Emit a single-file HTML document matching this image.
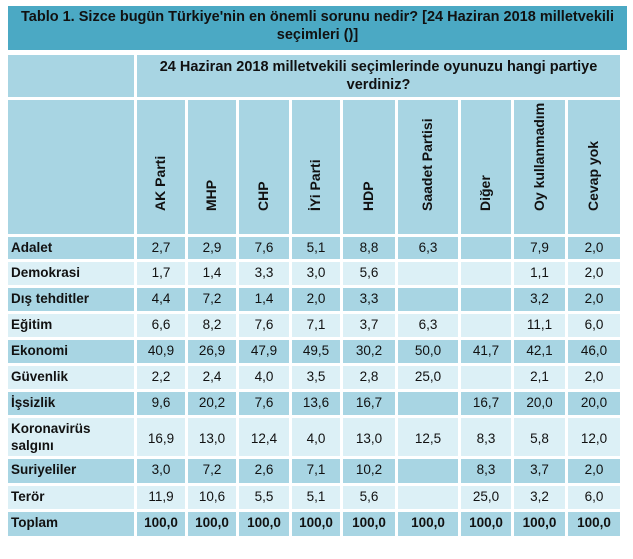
<!DOCTYPE html>
<html><head><meta charset="utf-8"><style>
body{margin:0;background:#fff;width:633px;height:559px;overflow:hidden;font-family:"Liberation Sans",Arial,sans-serif;color:#111;position:relative}
.title{position:absolute;left:8px;top:6px;width:619px;height:44px;background:#4ba9c4;font-weight:bold;font-size:14.5px;text-align:center;line-height:18px;padding-top:2px;box-sizing:border-box}
table{position:absolute;left:5px;top:52px;border-collapse:separate;border-spacing:3px;table-layout:fixed}
td{padding:0;font-size:13.5px;text-align:center;vertical-align:top;line-height:17px;padding-top:2px;box-sizing:border-box}
td.l{text-align:left;font-weight:bold;padding-left:3px}
.d td{background:#a8d5e3}
.w td{background:#dcf0f6}
.hd td{background:#a8d5e3;font-weight:bold}
.rot{position:relative;height:132px}
.rot span{position:absolute;left:50%;bottom:6px;transform-origin:0 0;transform:rotate(-90deg) translate(0,-9px);white-space:nowrap;font-weight:bold;font-size:14px}
tr.t td{font-weight:bold}
</style></head><body>
<div class="title">Tablo 1. Sizce bugün Türkiye'nin en önemli sorunu nedir? [24 Haziran 2018 milletvekili seçimleri ()]</div>
<table>
<colgroup><col style="width:126px"><col style="width:48px"><col style="width:48px"><col style="width:50px"><col style="width:48px"><col style="width:52px"><col style="width:60px"><col style="width:50px"><col style="width:51px"><col style="width:52px"></colgroup>
<tr class="hd" style="height:42px"><td></td><td colspan="9" style="font-size:14.5px;line-height:18px;padding-top:3px">24 Haziran 2018 milletvekili seçimlerinde oyunuzu hangi partiye verdiniz?</td></tr>
<tr class="hd" style="height:132px"><td></td>
<td><div class="rot"><span>AK Parti</span></div></td>
<td><div class="rot"><span>MHP</span></div></td>
<td><div class="rot"><span>CHP</span></div></td>
<td><div class="rot"><span>İYi Parti</span></div></td>
<td><div class="rot"><span>HDP</span></div></td>
<td><div class="rot"><span>Saadet Partisi</span></div></td>
<td><div class="rot"><span>Diğer</span></div></td>
<td><div class="rot"><span>Oy kullanmadım</span></div></td>
<td><div class="rot"><span>Cevap yok</span></div></td></tr>
<tr class="d" style="height:22px"><td class="l">Adalet</td><td>2,7</td><td>2,9</td><td>7,6</td><td>5,1</td><td>8,8</td><td>6,3</td><td></td><td>7,9</td><td>2,0</td></tr>
<tr class="w" style="height:23px"><td class="l">Demokrasi</td><td>1,7</td><td>1,4</td><td>3,3</td><td>3,0</td><td>5,6</td><td></td><td></td><td>1,1</td><td>2,0</td></tr>
<tr class="d" style="height:23px"><td class="l">Dış tehditler</td><td>4,4</td><td>7,2</td><td>1,4</td><td>2,0</td><td>3,3</td><td></td><td></td><td>3,2</td><td>2,0</td></tr>
<tr class="w" style="height:23px"><td class="l">Eğitim</td><td>6,6</td><td>8,2</td><td>7,6</td><td>7,1</td><td>3,7</td><td>6,3</td><td></td><td>11,1</td><td>6,0</td></tr>
<tr class="d" style="height:23px"><td class="l">Ekonomi</td><td>40,9</td><td>26,9</td><td>47,9</td><td>49,5</td><td>30,2</td><td>50,0</td><td>41,7</td><td>42,1</td><td>46,0</td></tr>
<tr class="w" style="height:23px"><td class="l">Güvenlik</td><td>2,2</td><td>2,4</td><td>4,0</td><td>3,5</td><td>2,8</td><td>25,0</td><td></td><td>2,1</td><td>2,0</td></tr>
<tr class="d" style="height:23px"><td class="l">İşsizlik</td><td>9,6</td><td>20,2</td><td>7,6</td><td>13,6</td><td>16,7</td><td></td><td>16,7</td><td>20,0</td><td>20,0</td></tr>
<tr class="w" style="height:38px"><td class="l" style="padding-top:2px">Koronavirüs salgını</td><td style="vertical-align:middle">16,9</td><td style="vertical-align:middle">13,0</td><td style="vertical-align:middle">12,4</td><td style="vertical-align:middle">4,0</td><td style="vertical-align:middle">13,0</td><td style="vertical-align:middle">12,5</td><td style="vertical-align:middle">8,3</td><td style="vertical-align:middle">5,8</td><td style="vertical-align:middle">12,0</td></tr>
<tr class="d" style="height:24px"><td class="l">Suriyeliler</td><td>3,0</td><td>7,2</td><td>2,6</td><td>7,1</td><td>10,2</td><td></td><td>8,3</td><td>3,7</td><td>2,0</td></tr>
<tr class="w" style="height:23px"><td class="l">Terör</td><td>11,9</td><td>10,6</td><td>5,5</td><td>5,1</td><td>5,6</td><td></td><td>25,0</td><td>3,2</td><td>6,0</td></tr>
<tr class="d t" style="height:24px"><td class="l">Toplam</td><td>100,0</td><td>100,0</td><td>100,0</td><td>100,0</td><td>100,0</td><td>100,0</td><td>100,0</td><td>100,0</td><td>100,0</td></tr>
</table>
</body></html>
